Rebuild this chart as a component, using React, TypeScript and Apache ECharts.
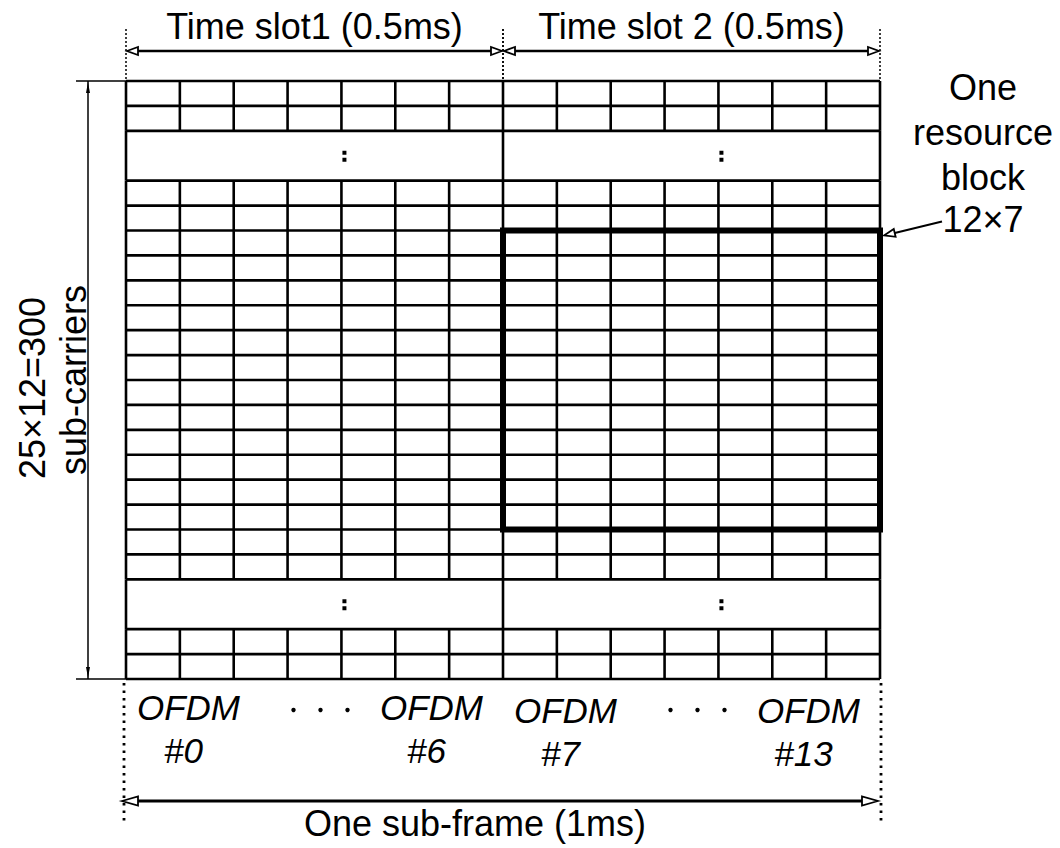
import React, { useEffect, useRef } from "react";
import * as echarts from "echarts";

// ---- data ----
const SYMBOLS_PER_SLOT = 7;
const slotLabels = ["Time slot1 (0.5ms)", "Time slot 2 (0.5ms)"];
const bandKinds = ["cells", "gap", "cells", "gap", "cells"];
const bandRows = [2, 2, 16, 2, 2];
const blockSymbols = [7, 14];
const blockRows = [6, 18];
const ellipsisSymbols = [4, 11];
const ofdmIndices = [0, 6, 7, 13];
const ofdmWord = "OFDM";
const freqLabels = ["25×12=300", "sub-carriers"];
const blockLabels = ["One", "resource", "block", "12×7"];
const subframeLabel = "One sub-frame (1ms)";

const totalSymbols = SYMBOLS_PER_SLOT * slotLabels.length;
const totalRows = bandRows.reduce((a, b) => a + b, 0);

function buildSegments(): number[][] {
  const segs: number[][] = [];
  const hSet = new Set<number>();
  let y = 0;
  bandKinds.forEach((kind, i) => {
    const y0 = y;
    const y1 = y + bandRows[i];
    hSet.add(y0);
    hSet.add(y1);
    if (kind === "cells") for (let r = y0 + 1; r < y1; r++) hSet.add(r);
    const xs: number[] = [];
    if (kind === "cells") {
      for (let x = 0; x <= totalSymbols; x++) xs.push(x);
    } else {
      for (let s = 0; s <= slotLabels.length; s++) xs.push(s * SYMBOLS_PER_SLOT);
    }
    xs.forEach((x) => segs.push([x, y0, x, y1]));
    y = y1;
  });
  Array.from(hSet).forEach((yy) => segs.push([0, yy, totalSymbols, yy]));
  return segs;
}

// ---- styling helpers ----
const FONT = "'Liberation Sans', Arial, Helvetica, sans-serif";
const FS = 36;

function txt(x: number, y: number, text: string, extra: any = {}, rotation = 0) {
  return {
    type: "text",
    x,
    y,
    rotation,
    style: {
      text,
      fill: "#000",
      fontSize: FS,
      fontFamily: FONT,
      align: "center",
      verticalAlign: "middle",
      ...extra,
    },
  };
}

function ln(x1: number, y1: number, x2: number, y2: number, lineWidth = 2, dash?: number[]) {
  return {
    type: "line",
    shape: { x1, y1, x2, y2 },
    style: { stroke: "#000", lineWidth, lineDash: dash, fill: null },
  };
}

function head(tx: number, ty: number, ux: number, uy: number, len = 12, hw = 4.5) {
  const bx = tx - ux * len;
  const by = ty - uy * len;
  const px = -uy;
  const py = ux;
  return {
    type: "polygon",
    shape: {
      points: [
        [tx, ty],
        [bx + px * hw, by + py * hw],
        [bx - px * hw, by - py * hw],
      ],
    },
    style: { fill: "#fff", stroke: "#000", lineWidth: 1.8 },
  };
}

function doubleArrow(x0: number, x1: number, y: number, lw = 2.5, len = 12, hw = 4.5) {
  return [
    ln(x0 + len, y, x1 - len, y, lw),
    head(x0, y, -1, 0, len, hw),
    head(x1, y, 1, 0, len, hw),
  ];
}

function buildOption() {
  return {
    animation: false,
    backgroundColor: "#fff",
    grid: { left: 126, top: 81, right: 180, bottom: 169 },
    xAxis: { type: "value", min: 0, max: totalSymbols, show: false },
    yAxis: { type: "value", min: 0, max: totalRows, inverse: true, show: false },
    series: [
      {
        name: "grid",
        type: "custom",
        silent: true,
        clip: false,
        data: buildSegments(),
        renderItem: (_p: any, api: any) => {
          const a = api.coord([api.value(0), api.value(1)]);
          const b = api.coord([api.value(2), api.value(3)]);
          return ln(a[0], a[1], b[0], b[1], 2.6);
        },
      },
      {
        name: "resource block",
        type: "custom",
        silent: true,
        clip: false,
        data: [[blockSymbols[0], blockRows[0], blockSymbols[1], blockRows[1]]],
        renderItem: (_p: any, api: any) => {
          const a = api.coord([api.value(0), api.value(1)]);
          const b = api.coord([api.value(2), api.value(3)]);
          return {
            type: "rect",
            shape: { x: a[0], y: a[1], width: b[0] - a[0], height: b[1] - a[1] },
            style: { fill: null, stroke: "#000", lineWidth: 6 },
          };
        },
      },
      {
        name: "ellipsis",
        type: "custom",
        silent: true,
        clip: false,
        data: (() => {
          const out: number[][] = [];
          let y = 0;
          bandKinds.forEach((k, i) => {
            if (k === "gap") ellipsisSymbols.forEach((s) => out.push([s, y + bandRows[i] / 2]));
            y += bandRows[i];
          });
          return out;
        })(),
        renderItem: (_p: any, api: any) => {
          const c = api.coord([api.value(0), api.value(1)]);
          return {
            type: "group",
            children: [
              { type: "rect", shape: { x: c[0] + 1, y: c[1] - 5, width: 4, height: 4 }, style: { fill: "#000" } },
              { type: "rect", shape: { x: c[0] + 1, y: c[1] + 2, width: 4, height: 4 }, style: { fill: "#000" } },
            ],
          };
        },
      },
      {
        name: "slots",
        type: "custom",
        silent: true,
        clip: false,
        data: slotLabels.map((_, i) => [i * SYMBOLS_PER_SLOT, (i + 1) * SYMBOLS_PER_SLOT]),
        renderItem: (p: any, api: any) => {
          const a = api.coord([api.value(0), 0]);
          const b = api.coord([api.value(1), 0]);
          const top = a[1];
          const yArrow = top - 30;
          return {
            type: "group",
            children: [
              ln(a[0], top - 52, a[0], top, 1.5, [2, 2]),
              ln(b[0], top - 52, b[0], top, 1.5, [2, 2]),
              ...doubleArrow(a[0] + 1, b[0] - 1, yArrow, 2.4, 11, 4),
              txt((a[0] + b[0]) / 2, top - 55, slotLabels[p.dataIndex]),
            ],
          };
        },
      },
      {
        name: "symbols",
        type: "custom",
        silent: true,
        clip: false,
        data: ofdmIndices.map((k) => [k, totalRows]),
        renderItem: (p: any, api: any) => {
          const k = api.value(0);
          const a = api.coord([k, api.value(1)]);
          const b = api.coord([k + 1, api.value(1)]);
          const bottom = a[1];
          const leftSide = p.dataIndex % 2 === 0;
          const dy = p.dataIndex >= 2 ? 3 : 0;
          const ofdmW = 103;
          const cx = leftSide ? a[0] + 11 + ofdmW / 2 : b[0] - 20 - ofdmW / 2;
          return {
            type: "group",
            children: [
              txt(cx, bottom + 28 + dy, ofdmWord, { fontStyle: "italic", fontSize: 35 }),
              txt(cx - 5, bottom + 71 + dy, "#" + k, { fontStyle: "italic", fontSize: 35 }),
            ],
          };
        },
      },
      {
        name: "symbol dots",
        type: "custom",
        silent: true,
        clip: false,
        data: slotLabels.map((_, i) => [(i + 0.5) * SYMBOLS_PER_SLOT, totalRows]),
        renderItem: (_p: any, api: any) => {
          const c = api.coord([api.value(0), api.value(1)]);
          const children: any[] = [];
          for (let j = -1; j <= 1; j++) {
            children.push({
              type: "circle",
              shape: { cx: c[0] + 6 + j * 27, cy: c[1] + 31, r: 2.2 },
              style: { fill: "#000" },
            });
          }
          return { type: "group", children };
        },
      },
      {
        name: "subframe",
        type: "custom",
        silent: true,
        clip: false,
        data: [[0, totalSymbols, totalRows]],
        renderItem: (_p: any, api: any) => {
          const a = api.coord([api.value(0), api.value(2)]);
          const b = api.coord([api.value(1), api.value(2)]);
          const bottom = a[1];
          return {
            type: "group",
            children: [
              ln(a[0] - 2, bottom + 4, a[0] - 2, bottom + 146, 2.8, [2.5, 5]),
              ln(b[0] + 1, bottom + 4, b[0] + 1, bottom + 146, 2.8, [2.5, 5]),
              ...doubleArrow(a[0] - 4, b[0] - 2, bottom + 122, 3, 16, 4.5),
              txt((a[0] + b[0]) / 2 - 28, bottom + 144, subframeLabel),
            ],
          };
        },
      },
      {
        name: "frequency",
        type: "custom",
        silent: true,
        clip: false,
        data: [[0, 0, totalRows]],
        renderItem: (_p: any, api: any) => {
          const a = api.coord([api.value(0), api.value(1)]);
          const b = api.coord([api.value(0), api.value(2)]);
          const x = a[0] - 38;
          const mid = (a[1] + b[1]) / 2;
          return {
            type: "group",
            children: [
              ln(a[0] - 50, a[1], a[0], a[1], 1.5),
              ln(b[0] - 50, b[1], b[0], b[1], 1.5),
              ln(x, a[1], x, b[1], 1.5),
              { type: "polygon", shape: { points: [[x, a[1] + 1], [x - 2, a[1] + 12], [x + 2, a[1] + 12]] }, style: { fill: "#000" } },
              { type: "polygon", shape: { points: [[x, b[1] - 1], [x - 2, b[1] - 12], [x + 2, b[1] - 12]] }, style: { fill: "#000" } },
              txt(a[0] - 94, mid + 8, freqLabels[0], {}, Math.PI / 2),
              txt(a[0] - 53, mid, freqLabels[1], {}, Math.PI / 2),
            ],
          };
        },
      },
      {
        name: "block label",
        type: "custom",
        silent: true,
        clip: false,
        data: [[blockSymbols[1], blockRows[0]]],
        renderItem: (_p: any, api: any) => {
          const c = api.coord([api.value(0), api.value(1)]);
          const cx = c[0] + 103;
          const ys = [-143, -98, -53, -11];
          const children: any[] = blockLabels.map((t, i) => txt(cx, c[1] + ys[i], t));
          const tx = c[0] + 4;
          const ty = c[1] + 5;
          const sx = c[0] + 62;
          const sy = c[1] - 9;
          const dx = tx - sx;
          const dy = ty - sy;
          const L = Math.sqrt(dx * dx + dy * dy);
          const ux = dx / L;
          const uy = dy / L;
          children.push(ln(sx, sy, tx - ux * 10, ty - uy * 10, 2));
          children.push(head(tx, ty, ux, uy, 11, 4));
          return { type: "group", children };
        },
      },
    ],
  };
}

export default function App() {
  const ref = useRef<HTMLDivElement>(null);
  useEffect(() => {
    if (!ref.current) return;
    const chart = echarts.init(ref.current, null, { renderer: "svg" });
    chart.setOption(buildOption() as any);
    return () => chart.dispose();
  }, []);
  return (
    <div
      ref={ref}
      style={{ position: "absolute", left: 0, top: 0, width: 1060, height: 848, background: "#fff" }}
    />
  );
}
